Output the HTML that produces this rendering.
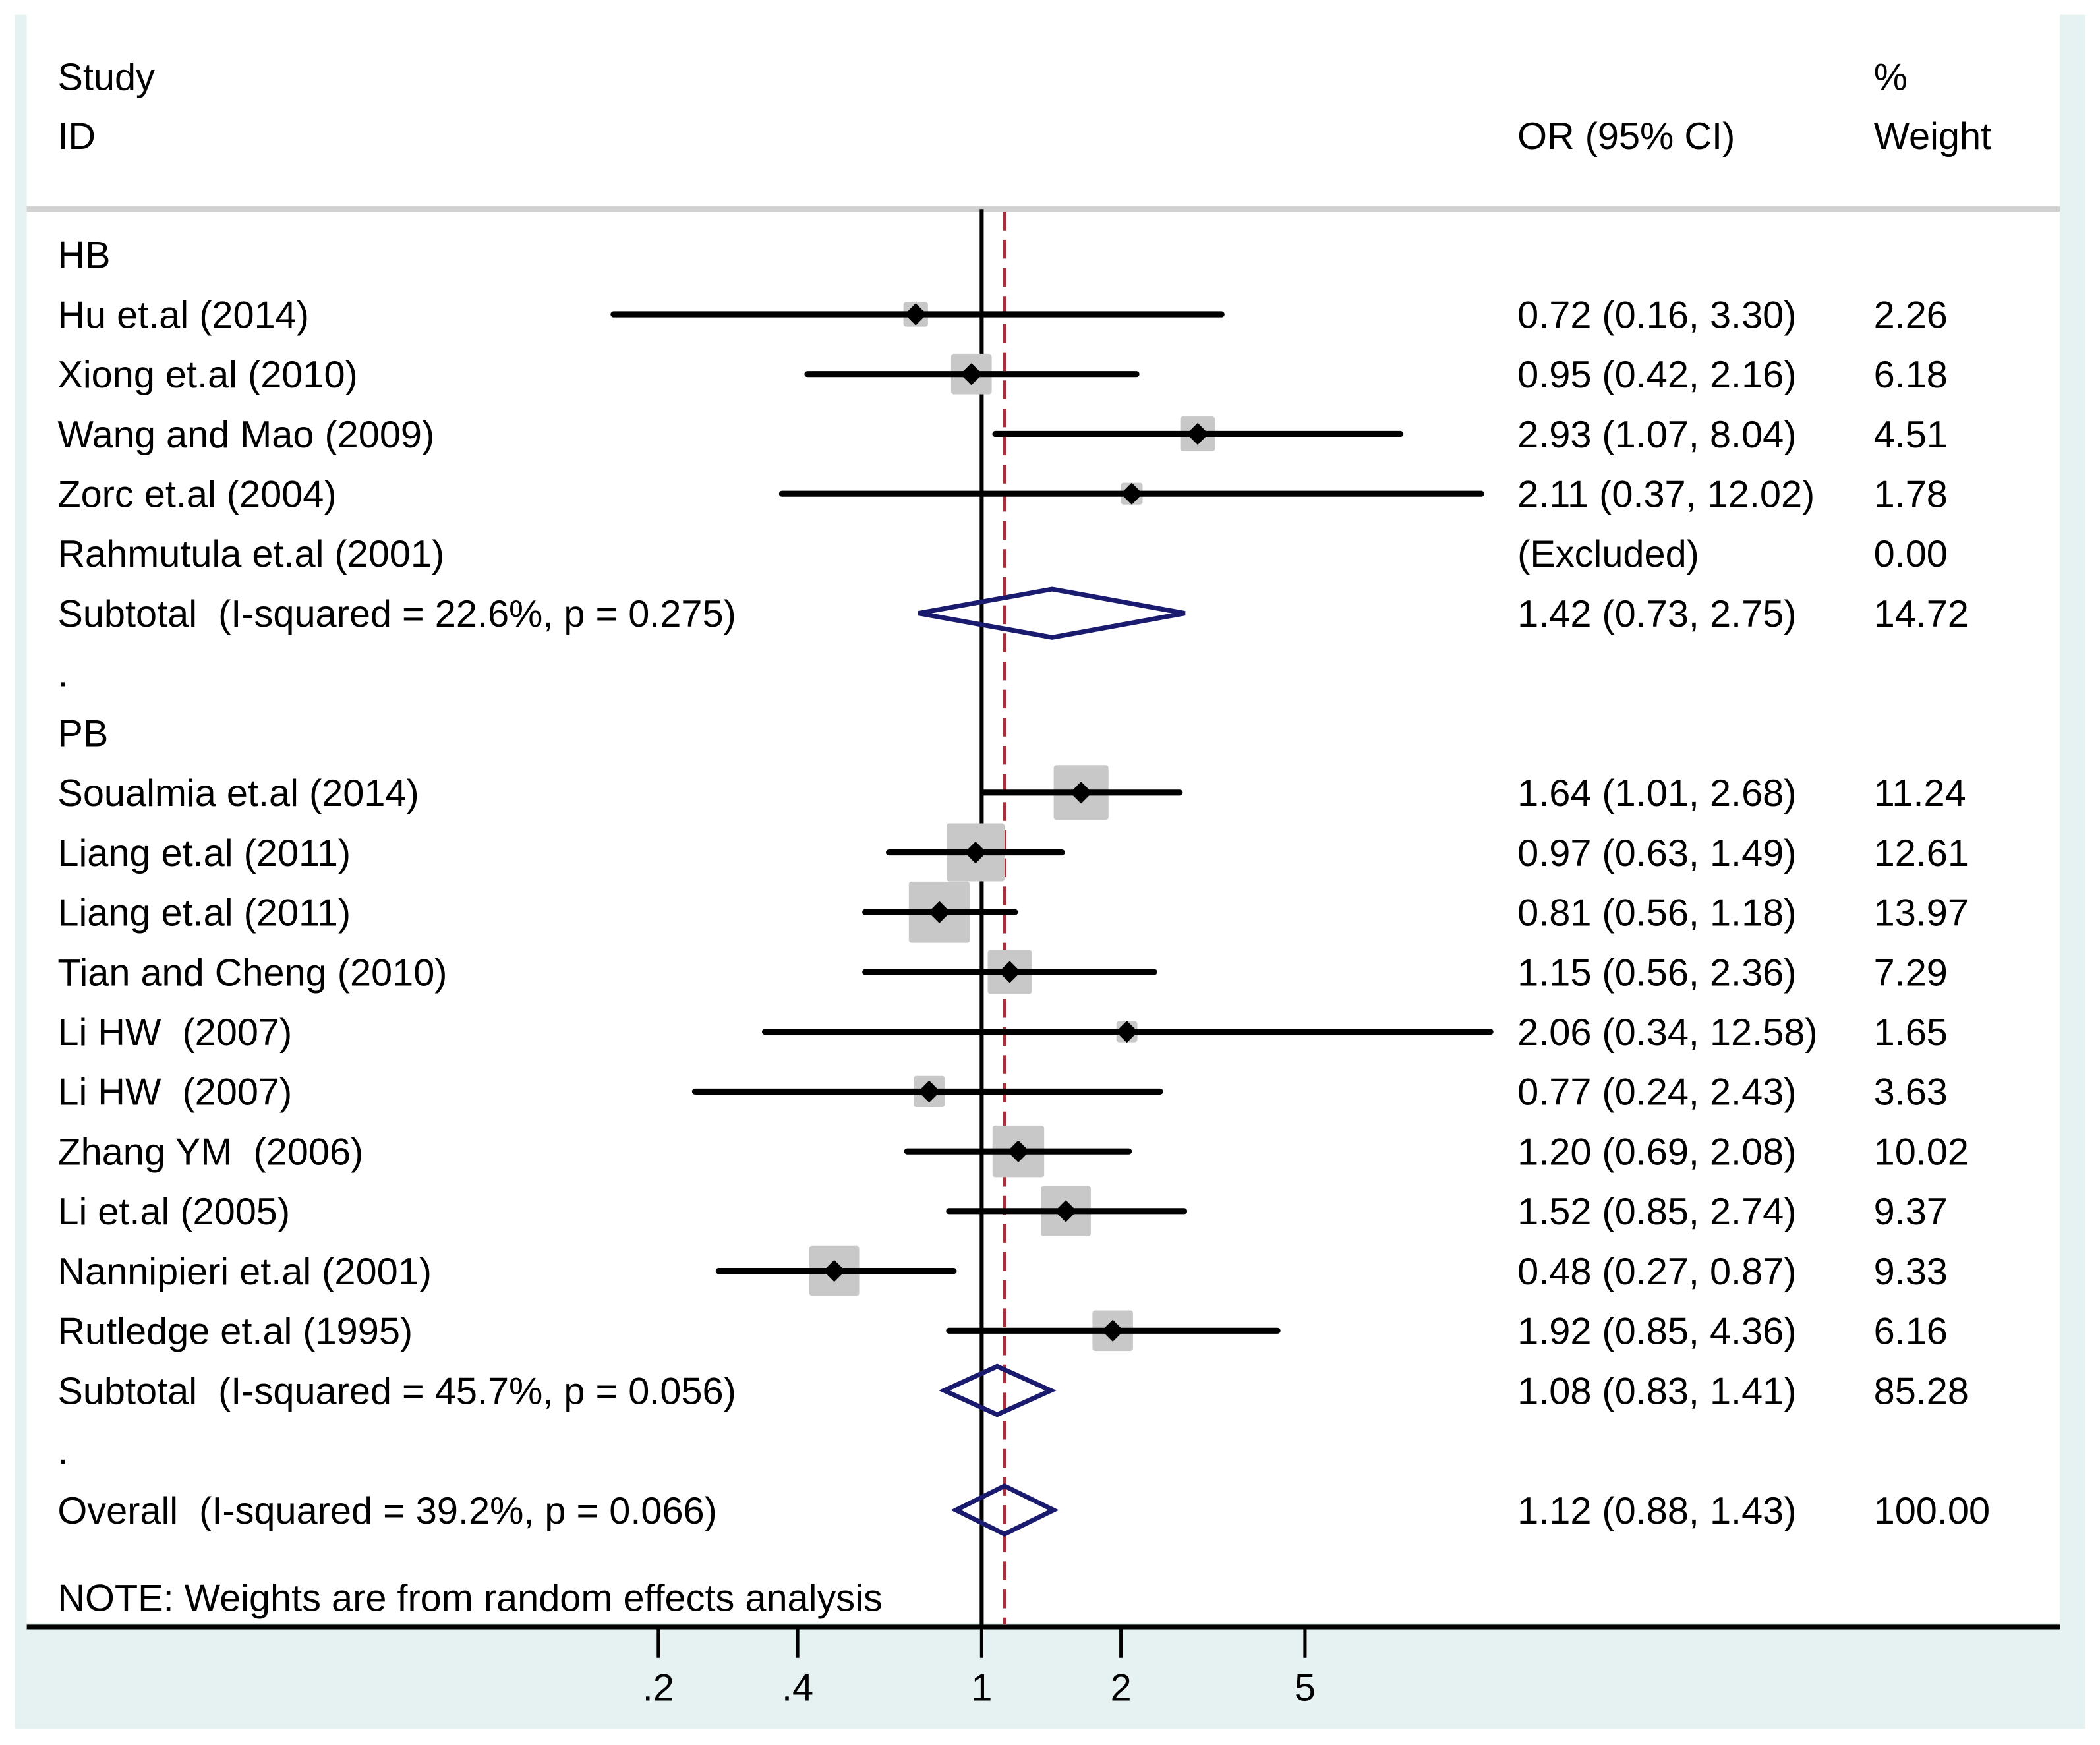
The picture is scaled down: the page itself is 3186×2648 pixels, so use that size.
<!DOCTYPE html>
<html><head><meta charset="utf-8"><style>
html,body{margin:0;padding:0;background:#fff;}
svg{display:block;}
text{font-family:"Liberation Sans",Arial,sans-serif;font-size:28.4px;fill:#000;white-space:pre;}
</style></head><body>
<svg id="chart" width="3186" height="2648" viewBox="0 0 1568 1303" xmlns="http://www.w3.org/2000/svg" xml:space="preserve">
<rect x="11" y="11" width="1546" height="1280" fill="#e6f1f1"/>
<rect x="20" y="11" width="1518" height="1201" fill="#fff"/>
<rect x="20" y="154" width="1518" height="4" fill="#d0d0d0"/>
<text x="43" y="67">Study</text>
<text x="43" y="111">ID</text>
<text x="1133" y="111">OR (95% CI)</text>
<text x="1399" y="67">%</text>
<text x="1399" y="111">Weight</text>
<g id="marks"></g>
<g id="labels"></g>
<text x="43" y="1203">NOTE: Weights are from random effects analysis</text>
<line x1="20" y1="1215" x2="1538" y2="1215" stroke="#000" stroke-width="3.5"/>
<g id="axis"></g>
</svg>
<script>
const labels = ["HB","Hu et.al (2014)","Xiong et.al (2010)","Wang and Mao (2009)","Zorc et.al (2004)","Rahmutula et.al (2001)","Subtotal  (I-squared = 22.6%, p = 0.275)",".","PB","Soualmia et.al (2014)","Liang et.al (2011)","Liang et.al (2011)","Tian and Cheng (2010)","Li HW  (2007)","Li HW  (2007)","Zhang YM  (2006)","Li et.al (2005)","Nannipieri et.al (2001)","Rutledge et.al (1995)","Subtotal  (I-squared = 45.7%, p = 0.056)",".","Overall  (I-squared = 39.2%, p = 0.066)"];
const kinds = ["h","s","s","s","s","x","d","h","h","s","s","s","s","s","s","s","s","s","s","d","h","d"];
const orVals = [null,0.72,0.95,2.93,2.11,null,1.42,null,null,1.64,0.97,0.81,1.15,2.06,0.77,1.20,1.52,0.48,1.92,1.08,null,1.12];
const loVals = [null,0.16,0.42,1.07,0.37,null,0.73,null,null,1.01,0.63,0.56,0.56,0.34,0.24,0.69,0.85,0.27,0.85,0.83,null,0.88];
const hiVals = [null,3.30,2.16,8.04,12.02,null,2.75,null,null,2.68,1.49,1.18,2.36,12.58,2.43,2.08,2.74,0.87,4.36,1.41,null,1.43];
const orText = ["","0.72 (0.16, 3.30)","0.95 (0.42, 2.16)","2.93 (1.07, 8.04)","2.11 (0.37, 12.02)","(Excluded)","1.42 (0.73, 2.75)","","","1.64 (1.01, 2.68)","0.97 (0.63, 1.49)","0.81 (0.56, 1.18)","1.15 (0.56, 2.36)","2.06 (0.34, 12.58)","0.77 (0.24, 2.43)","1.20 (0.69, 2.08)","1.52 (0.85, 2.74)","0.48 (0.27, 0.87)","1.92 (0.85, 4.36)","1.08 (0.83, 1.41)","","1.12 (0.88, 1.43)"];
const weights = [null,2.26,6.18,4.51,1.78,0.00,14.72,null,null,11.24,12.61,13.97,7.29,1.65,3.63,10.02,9.37,9.33,6.16,85.28,null,100.00];
const weightText = ["","2.26","6.18","4.51","1.78","0.00","14.72","","","11.24","12.61","13.97","7.29","1.65","3.63","10.02","9.37","9.33","6.16","85.28","","100.00"];
const tickVals = [0.2,0.4,1,2,5];
const tickLabels = [".2",".4","1","2","5"];
const overallEffect = 1.12;

const NS="http://www.w3.org/2000/svg";
const xs = v => 733 + 150*Math.log(v);
const ys = i => 190 + i*44.65;
const marks=document.getElementById('marks'), lab=document.getElementById('labels'), ax=document.getElementById('axis');
function mk(tag, attrs, parent){const e=document.createElementNS(NS,tag);for(const k in attrs)e.setAttribute(k,attrs[k]);parent.appendChild(e);return e;}

let l1=mk('line',{x1:xs(1),y1:156,x2:xs(1),y2:1215,stroke:'#000','stroke-width':3},marks);


let l2=mk('line',{x1:xs(overallEffect),y1:158,x2:xs(overallEffect),y2:1213,stroke:'#a8303a','stroke-width':2.8,'stroke-dasharray':'14 7'},marks);



labels.forEach((t,i)=>{
  const y=ys(i);
  let tx=mk('text',{x:43,y:y+10},lab); tx.textContent=t;
  
  
  if(orText[i]){let o=mk('text',{x:1133,y:y+10},lab);o.textContent=orText[i];
    
    }
  if(weightText[i]){let w=mk('text',{x:1399,y:y+10},lab);w.textContent=weightText[i];
    
    }
  if(kinds[i]==='s'){
    const side=12.2*Math.sqrt(weights[i]);
    const cx=xs(orVals[i]);
    let b=mk('rect',{x:cx-side/2,y:y-side/2,width:side,height:side,rx:2,fill:'#c8c8c8'},marks);
    
    
    let c=mk('line',{x1:xs(loVals[i]),y1:y,x2:xs(hiVals[i]),y2:y,stroke:'#000','stroke-width':4.5,'stroke-linecap':'round'},marks);
    
    
    let p=mk('polygon',{points:`${cx-7.5},${y} ${cx},${y-7.5} ${cx+7.5},${y} ${cx},${y+7.5}`,fill:'#000','stroke':'#000','stroke-width':1,'stroke-linejoin':'round'},marks);
    
    
  } else if(kinds[i]==='d'){
    const a=xs(loVals[i]),m=xs(orVals[i]),b2=xs(hiVals[i]);
    let d=mk('polygon',{points:`${a},${y} ${m},${y-18} ${b2},${y} ${m},${y+18}`,fill:'none',stroke:'#1a1a6e','stroke-width':3.5,'stroke-linejoin':'miter'},marks);
    
    
  }
});

tickVals.forEach((v,i)=>{
  let t=mk('line',{x1:xs(v),y1:1215,x2:xs(v),y2:1238,stroke:'#000','stroke-width':2.5},ax);
  
  
  let tl=mk('text',{x:xs(v),y:1270,'text-anchor':'middle'},ax); tl.textContent=tickLabels[i];
  
  
});
</script>
</body></html>
